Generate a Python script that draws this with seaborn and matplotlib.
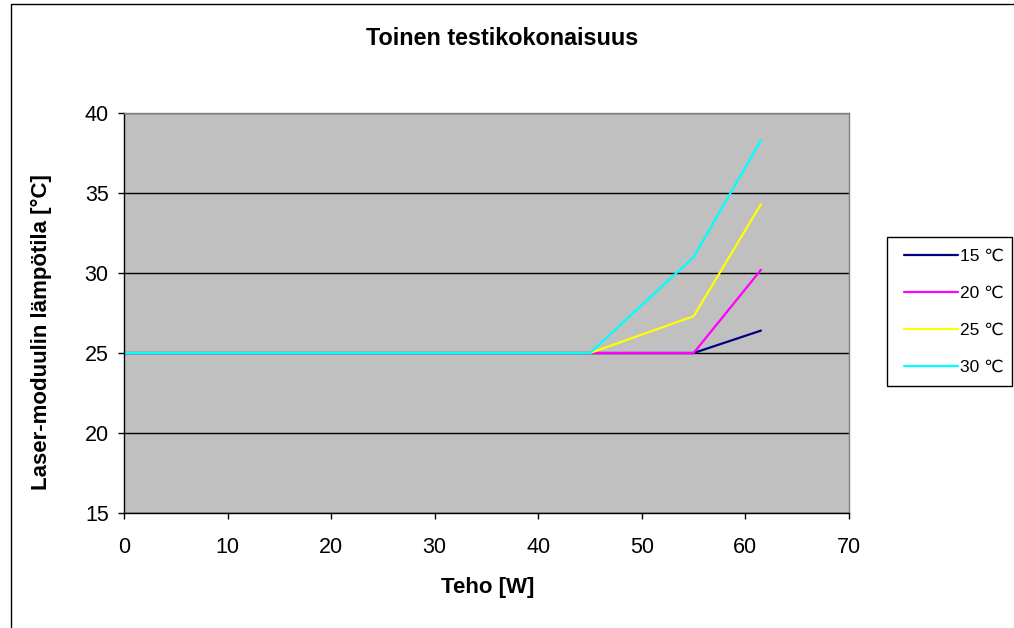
import matplotlib
matplotlib.use("Agg")
import matplotlib.pyplot as plt
import seaborn as sns
import pandas as pd
from matplotlib.patches import Rectangle

# data
teho = [0, 45, 55, 61.5]
t15 = [25, 25, 25, 26.4]
t20 = [25, 25, 25, 30.2]
t25 = [25, 25, 27.3, 34.3]
t30 = [25, 25, 31.0, 38.3]
series_labels = ["15 ℃", "20 ℃", "25 ℃", "30 ℃"]
colors = ["#000080", "#FF00FF", "#FFFF00", "#00FFFF"]
x_ticks = [0, 10, 20, 30, 40, 50, 60, 70]
y_ticks = [15, 20, 25, 30, 35, 40]

rows = []
for lab, vals in zip(series_labels, [t15, t20, t25, t30]):
    for x, y in zip(teho, vals):
        rows.append({"Teho": x, "Lampotila": y, "Sarja": lab})
df = pd.DataFrame(rows)

sns.set_style("white")
plt.rcParams["font.family"] = ["Liberation Sans", "DejaVu Sans"]
for k in ["text.color", "axes.labelcolor", "xtick.color", "ytick.color"]:
    plt.rcParams[k] = "black"

W, H = 1014, 628
fig = plt.figure(figsize=(W / 100, H / 100), dpi=100)
ax = fig.add_axes([124 / W, 1 - 513 / H, (849 - 124) / W, (513 - 113) / H])
ax.set_facecolor("#C0C0C0")

sns.lineplot(data=df, x="Teho", y="Lampotila", hue="Sarja",
             hue_order=series_labels, palette=colors, linewidth=1.6,
             ax=ax, sort=False, legend=True)

ax.set_xlim(0, 70)
ax.set_ylim(15, 40)
ax.set_xticks(x_ticks)
ax.set_yticks(y_ticks)
ax.yaxis.grid(True, color="black", linewidth=1.0)
ax.set_axisbelow(True)
for s in ["left", "bottom"]:
    ax.spines[s].set_color("black")
    ax.spines[s].set_linewidth(1.0)
for s in ["top", "right"]:
    ax.spines[s].set_color("#808080")
    ax.spines[s].set_linewidth(1.0)
ax.tick_params(axis="both", direction="out", length=4, width=1, colors="black",
               labelsize=15.5, bottom=True, left=True)
ax.tick_params(axis="x", pad=13.5)
ax.tick_params(axis="y", pad=7)

ax.set_xlabel("")
ax.set_ylabel("")
fig.text(488 / W, 1 - 593 / H, "Teho [W]", ha="center", va="baseline",
         fontsize=16, fontweight="bold")
fig.text(47 / W, 1 - 332 / H, "Laser-moduulin lämpötila [°C]", ha="center",
         va="baseline", rotation=90, rotation_mode="anchor",
         fontsize=16, fontweight="bold")
fig.text(502 / W, 1 - 45 / H, "Toinen testikokonaisuus", ha="center", va="baseline",
         fontsize=16.8, fontweight="bold")

handles, labels = ax.get_legend_handles_labels()
leg = ax.legend(handles, labels, loc="upper left",
                bbox_to_anchor=(904 / W, 1 - 248.5 / H), bbox_transform=fig.transFigure,
                frameon=False, fontsize=12.5,
                handlelength=3.1, handletextpad=0.15, labelspacing=1.26,
                borderpad=0, borderaxespad=0)
for line in leg.get_lines():
    line.set_linewidth(1.6)

fig.patches.append(Rectangle((887 / W, 1 - 386 / H), (1012 - 887) / W, (386 - 237) / H,
                             transform=fig.transFigure, fill=False,
                             edgecolor="black", linewidth=1.0))
fig.patches.append(Rectangle((11 / W, -0.1), 1.2, 1 - 4 / H + 0.1,
                             transform=fig.transFigure, fill=False,
                             edgecolor="black", linewidth=1.0))

fig.savefig("out.png", dpi=100, facecolor="white")
